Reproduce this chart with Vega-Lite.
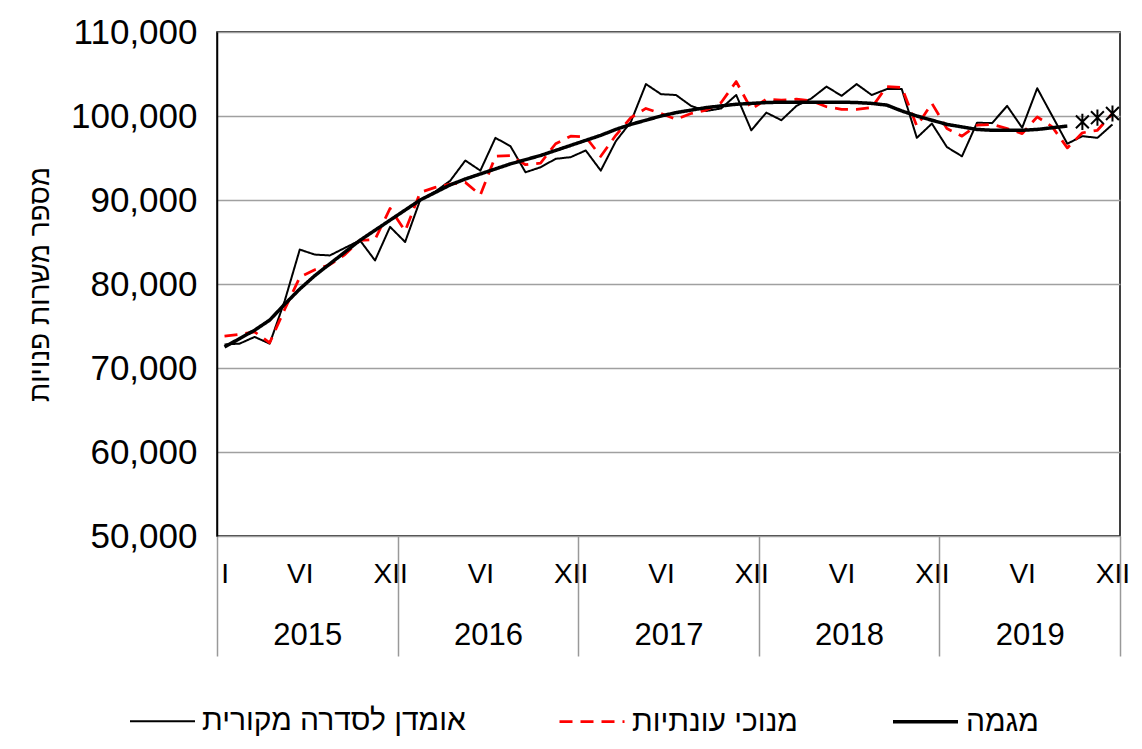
{
"$schema": "https://vega.github.io/schema/vega-lite/v6.json",
"width": 903, "height": 504,
"autosize": {"type": "none"},
"padding": {"left": 217, "top": 32, "right": 22, "bottom": 213},
"background": "#ffffff",
"config": {"font": "Liberation Sans", "view": {"stroke": "#000000", "strokeWidth": 1.5}, "axis": {"labelColor": "#000000", "titleColor": "#000000"}},
"data": {"values": [
{"m":1,"orig":72800,"sa":73800,"trend":72500},
{"m":2,"orig":72900,"sa":74000,"trend":73500},
{"m":3,"orig":73700,"sa":74300,"trend":74500},
{"m":4,"orig":72900,"sa":73000,"trend":75700},
{"m":5,"orig":78000,"sa":77000,"trend":77600},
{"m":6,"orig":84100,"sa":80800,"trend":79400},
{"m":7,"orig":83500,"sa":81700,"trend":81000},
{"m":8,"orig":83400,"sa":82300,"trend":82400},
{"m":9,"orig":84300,"sa":83500,"trend":83800},
{"m":10,"orig":85200,"sa":85200,"trend":85200},
{"m":11,"orig":82800,"sa":85300,"trend":86400},
{"m":12,"orig":86800,"sa":89000,"trend":87600},
{"m":13,"orig":85000,"sa":86300,"trend":88800},
{"m":14,"orig":90000,"sa":90900,"trend":90000},
{"m":15,"orig":91000,"sa":91500,"trend":90900},
{"m":16,"orig":92300,"sa":91900,"trend":91800},
{"m":17,"orig":94700,"sa":92100,"trend":92500},
{"m":18,"orig":93500,"sa":90600,"trend":93100},
{"m":19,"orig":97400,"sa":95200,"trend":93700},
{"m":20,"orig":96400,"sa":95300,"trend":94300},
{"m":21,"orig":93300,"sa":94200,"trend":94800},
{"m":22,"orig":93900,"sa":94400,"trend":95300},
{"m":23,"orig":94900,"sa":96700,"trend":95900},
{"m":24,"orig":95100,"sa":97600,"trend":96500},
{"m":25,"orig":95900,"sa":97500,"trend":97100},
{"m":26,"orig":93500,"sa":95200,"trend":97700},
{"m":27,"orig":97000,"sa":97700,"trend":98400},
{"m":28,"orig":99300,"sa":99800,"trend":99000},
{"m":29,"orig":103800,"sa":100900,"trend":99500},
{"m":30,"orig":102600,"sa":100300,"trend":100000},
{"m":31,"orig":102500,"sa":99600,"trend":100400},
{"m":32,"orig":101200,"sa":100300,"trend":100700},
{"m":33,"orig":100600,"sa":100700,"trend":101000},
{"m":34,"orig":100900,"sa":101600,"trend":101200},
{"m":35,"orig":102500,"sa":104100,"trend":101400},
{"m":36,"orig":98300,"sa":100800,"trend":101500},
{"m":37,"orig":100400,"sa":102000,"trend":101600},
{"m":38,"orig":99500,"sa":101900,"trend":101650},
{"m":39,"orig":101200,"sa":102000,"trend":101650},
{"m":40,"orig":102100,"sa":101800,"trend":101650},
{"m":41,"orig":103500,"sa":101100,"trend":101650},
{"m":42,"orig":102400,"sa":100800,"trend":101650},
{"m":43,"orig":103800,"sa":100800,"trend":101600},
{"m":44,"orig":102500,"sa":101000,"trend":101500},
{"m":45,"orig":103200,"sa":103500,"trend":101300},
{"m":46,"orig":103200,"sa":103400,"trend":100600},
{"m":47,"orig":97400,"sa":98800,"trend":100000},
{"m":48,"orig":99100,"sa":101500,"trend":99500},
{"m":49,"orig":96300,"sa":98500,"trend":99000},
{"m":50,"orig":95200,"sa":97600,"trend":98700},
{"m":51,"orig":99200,"sa":98900,"trend":98400},
{"m":52,"orig":99150,"sa":99000,"trend":98300},
{"m":53,"orig":101200,"sa":98500,"trend":98300},
{"m":54,"orig":98600,"sa":97900,"trend":98300},
{"m":55,"orig":103300,"sa":99900,"trend":98400},
{"m":56,"orig":100000,"sa":98700,"trend":98600},
{"m":57,"orig":96700,"sa":96200,"trend":98800},
{"m":58,"orig":97600,"sa":98000,"ext":99300},
{"m":59,"orig":97400,"sa":98300,"ext":99800},
{"m":60,"orig":99000,"sa":100300,"ext":100300}
]},
"transform": [{"fold": ["orig","sa","trend","ext"], "as": ["s","v"]}],
"layer": [
 {
  "transform": [{"filter": "datum.s != 'ext'"}],
  "mark": {"type": "line", "strokeJoin": "round"},
  "encoding": {
   "x": {"field":"m","type":"quantitative","scale":{"domain":[0.5,60.5],"nice":false,"zero":false},
     "axis":{"orient":"bottom","values":[1,6,12,18,24,30,36,42,48,54,60],"labelExpr":"datum.value == 1 ? 'I' : (datum.value % 12 == 0 ? 'XII' : 'VI')","ticks":false,"tickSize":0,"domain":false,"grid":false,"labelPadding":24,"labelFontSize":28,"labelFlush":false,"labelOverlap":false,"labelBound":false,"title":null}},
   "y": {"field":"v","type":"quantitative","scale":{"domain":[50000,110000],"nice":false,"zero":false},
     "axis":{"orient":"left","values":[50000,60000,70000,80000,90000,100000,110000],"format":",.0f","ticks":false,"tickSize":0,"domain":true,"domainColor":"#000000","domainWidth":1.5,"grid":true,"gridColor":"#a0a0a0","gridWidth":1.5,"labelPadding":20,"labelFontSize":35,"title":"מספר משרות פנויות","titleFontSize":28,"titleFontWeight":"normal","titlePadding":16}},
   "color": {"field":"s","type":"nominal","scale":{"domain":["orig","sa","trend"],"range":["#000000","#ff0000","#000000"]},
     "legend":{"orient":"none","legendX":-88,"legendY":655,"direction":"horizontal","title":null,"symbolType":"stroke","symbolSize":4225,"labelFontSize":30,"labelLimit":400,"labelOffset":6,"columnPadding":88,"padding":0,"labelExpr":"datum.label == 'orig' ? 'אומדן לסדרה מקורית' : (datum.label == 'sa' ? 'מנוכי עונתיות' : 'מגמה')"}},
   "strokeDash": {"field":"s","type":"nominal","scale":{"domain":["orig","sa","trend"],"range":[[1,0],[13,8],[1,0]]},
     "legend":{"orient":"none","legendX":-88,"legendY":655,"direction":"horizontal","title":null,"symbolType":"stroke","symbolSize":4225,"labelFontSize":30,"labelLimit":400,"labelOffset":6,"columnPadding":88,"padding":0,"labelExpr":"datum.label == 'orig' ? 'אומדן לסדרה מקורית' : (datum.label == 'sa' ? 'מנוכי עונתיות' : 'מגמה')"}},
   "strokeWidth": {"field":"s","type":"nominal","scale":{"domain":["orig","sa","trend"],"range":[2,3.5,6]},
     "legend":{"orient":"none","legendX":-88,"legendY":655,"direction":"horizontal","title":null,"symbolType":"stroke","symbolSize":4225,"labelFontSize":30,"labelLimit":400,"labelOffset":6,"columnPadding":88,"padding":0,"labelExpr":"datum.label == 'orig' ? 'אומדן לסדרה מקורית' : (datum.label == 'sa' ? 'מנוכי עונתיות' : 'מגמה')"}}
  }
 },
 {
  "transform": [{"filter": "datum.s == 'ext' && isValid(datum.v)"}],
  "mark": {"type":"point","shape":"M-0.8,-0.8L0.8,0.8M-0.8,0.8L0.8,-0.8M0,-1L0,1","filled":false,"stroke":"#000000","strokeWidth":2,"size":260,"opacity":1},
  "encoding": {
    "x": {"field":"m","type":"quantitative","axis":{"orient":"bottom","values":[0.5,12.5,24.5,36.5,48.5,60.5],"labelExpr":"datum.value > 60 ? '' : '' + (2015 + floor(datum.value / 12))","ticks":true,"tickSize":120,"tickColor":"#999999","tickWidth":1.5,"domain":false,"grid":false,"labelPadding":-36,"labelOffset":90.3,"labelFontSize":31,"labelFlush":false,"labelOverlap":false,"labelBound":false,"title":null}},
    "y": {"field":"v","type":"quantitative","axis":null}
  }
 }
],
"resolve": {"axis": {"x": "independent", "y": "independent"}}
}
